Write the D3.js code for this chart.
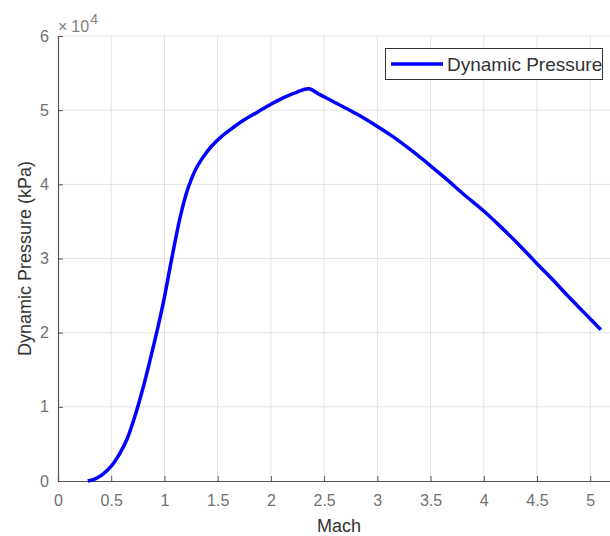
<!DOCTYPE html>
<meta charset="utf-8">
<script src="https://d3js.org/d3.v7.min.js"></script>
<style>
  body { margin: 0; background: #fff; }
  text { font-family: "Liberation Sans", Arial, sans-serif; }
</style>
<body>
<div id="chart"></div>
<script>
// Mach number and dynamic pressure (pressure in units of 1e4)
var mach = [0.28, 0.35, 0.42, 0.50, 0.58, 0.65, 0.72, 0.80, 0.87, 0.94, 1.00, 1.05, 1.10, 1.15, 1.20, 1.25, 1.30, 1.36, 1.44, 1.54, 1.64, 1.75, 1.87, 2.00, 2.12, 2.24, 2.355, 2.46, 2.58, 2.70, 2.84, 3.00, 3.15, 3.30, 3.50, 3.65, 3.80, 4.00, 4.15, 4.30, 4.50, 4.65, 4.80, 4.95, 5.10];
var pressure = [0.00, 0.03, 0.09, 0.20, 0.37, 0.57, 0.86, 1.26, 1.66, 2.08, 2.48, 2.86, 3.23, 3.57, 3.85, 4.06, 4.22, 4.36, 4.51, 4.65, 4.76, 4.87, 4.97, 5.08, 5.17, 5.24, 5.29, 5.21, 5.12, 5.03, 4.92, 4.78, 4.64, 4.48, 4.25, 4.07, 3.88, 3.64, 3.44, 3.23, 2.93, 2.71, 2.48, 2.26, 2.04];
var xTicks = [0, 0.5, 1, 1.5, 2, 2.5, 3, 3.5, 4, 4.5, 5];
var yTicks = [0, 1, 2, 3, 4, 5, 6];

var W = 610, H = 536;
var margin = { top: 36, right: 0, bottom: 55, left: 58 };
var width = W - margin.left - margin.right,
    height = H - margin.top - margin.bottom;

var svg = d3.select("#chart").append("svg")
  .attr("width", W).attr("height", H);
var g = svg.append("g")
  .attr("transform", "translate(" + margin.left + "," + margin.top + ")");

var x = d3.scaleLinear().domain([0, 5.2]).range([0, 553.5]);
var y = d3.scaleLinear().domain([0, 6]).range([height, 0]);

// grid
g.append("g").selectAll("line").data(xTicks.slice(1)).enter().append("line")
  .attr("x1", function (d) { return x(d); }).attr("x2", function (d) { return x(d); })
  .attr("y1", 0).attr("y2", height)
  .attr("stroke", "#e3e3e3").attr("stroke-width", 1);
g.append("g").selectAll("line").data(yTicks.slice(1)).enter().append("line")
  .attr("x1", 0).attr("x2", width)
  .attr("y1", function (d) { return y(d); }).attr("y2", function (d) { return y(d); })
  .attr("stroke", "#e3e3e3").attr("stroke-width", 1);

// axes (ticks pointing inward, MATLAB style)
var xAxis = g.append("g")
  .attr("transform", "translate(0," + height + ")")
  .call(d3.axisBottom(x).tickValues(xTicks).tickSize(-5).tickPadding(14)
    .tickFormat(function (d) { return d; }));
var yAxis = g.append("g")
  .call(d3.axisLeft(y).tickValues(yTicks).tickSize(-5).tickPadding(9)
    .tickFormat(function (d) { return d; }));
[xAxis, yAxis].forEach(function (a) {
  a.select(".domain").attr("stroke", "#555").attr("stroke-width", 1.2);
  a.selectAll(".tick line").attr("stroke", "#555");
  a.selectAll(".tick text").attr("fill", "#707070")
    .style("font-size", "16px").style("font-family", "'Liberation Sans', Arial, sans-serif");
});

// exponent label
var ex = svg.append("text").attr("x", 58).attr("y", 32)
  .attr("fill", "#808080").style("font-size", "16px");
ex.append("tspan").text("\u00d7");
ex.append("tspan").attr("dx", 4).text("10");
ex.append("tspan").attr("dy", -8).attr("dx", 1).style("font-size", "14px").text("4");

// axis labels
svg.append("text").attr("x", 339).attr("y", 532)
  .attr("text-anchor", "middle").attr("fill", "#333")
  .style("font-size", "18px").text("Mach");
svg.append("text")
  .attr("transform", "translate(31," + (margin.top + height / 2) + ") rotate(-90)")
  .attr("text-anchor", "middle").attr("fill", "#333")
  .style("font-size", "18px").text("Dynamic Pressure (kPa)");

// the line
var pts = mach.map(function (m, i) { return [m, pressure[i]]; });
g.append("path").datum(pts)
  .attr("fill", "none").attr("stroke", "#0000ff").attr("stroke-width", 3.5)
  .attr("stroke-linejoin", "round")
  .attr("d", d3.line()
    .x(function (d) { return x(d[0]); })
    .y(function (d) { return y(d[1]); })
    .curve(d3.curveCatmullRom.alpha(0.5)));

// legend
var lg = svg.append("g");
lg.append("rect").attr("x", 385.5).attr("y", 48.5).attr("width", 217).attr("height", 31)
  .attr("fill", "#fff").attr("stroke", "#333").attr("stroke-width", 1);
lg.append("line").attr("x1", 391).attr("x2", 443).attr("y1", 64).attr("y2", 64)
  .attr("stroke", "#0000ff").attr("stroke-width", 3.5);
lg.append("text").attr("x", 447).attr("y", 71)
  .attr("fill", "#333").style("font-size", "19px").text("Dynamic Pressure");
</script>
</body>
